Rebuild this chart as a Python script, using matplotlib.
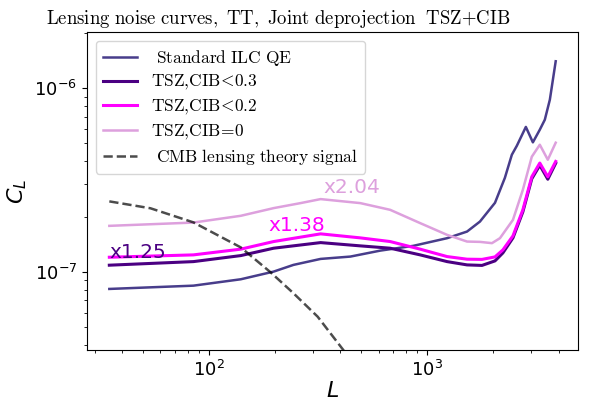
import matplotlib
matplotlib.use("Agg")
import matplotlib.pyplot as plt
from matplotlib.font_manager import FontProperties

# Values (C_L in units of 1e-7)
L_std = [35, 85, 140, 198, 244, 325, 445, 610, 863, 1234, 1523, 1745, 2045,
         2270, 2443, 2576, 2832, 3050, 3281, 3459, 3648, 3880]
cl_std = [0.808, 0.842, 0.912, 1.004, 1.092, 1.177, 1.212, 1.306, 1.386, 1.526,
          1.658, 1.879, 2.377, 3.25, 4.34, 4.86, 6.15, 5.07, 5.94, 6.73, 8.65, 14.0]

L_dep = [35, 85, 140, 198, 325, 494, 677, 929, 1234, 1523, 1783, 2045, 2223,
         2472, 2744, 3015, 3281, 3570, 3880]
cl_03 = [1.088, 1.138, 1.227, 1.346, 1.444, 1.386, 1.346, 1.238, 1.138, 1.092,
         1.085, 1.148, 1.269, 1.532, 2.123, 3.213, 3.805, 3.193, 3.902]
cl_02 = [1.202, 1.238, 1.330, 1.463, 1.611, 1.532, 1.463, 1.330, 1.212, 1.173,
         1.170, 1.207, 1.318, 1.571, 2.177, 3.294, 3.912, 3.294, 3.991]

L_zero = [35, 85, 140, 198, 263, 325, 494, 677, 929, 1234, 1523, 1745, 1981,
          2155, 2472, 2744, 3015, 3281, 3570, 3880]
cl_zero = [1.781, 1.856, 2.020, 2.224, 2.368, 2.490, 2.368, 2.177, 1.843, 1.591,
           1.463, 1.457, 1.434, 1.526, 1.920, 2.798, 4.233, 4.921, 4.077, 5.047]

L_th = [35, 54, 85, 140, 192, 244, 315, 413, 600, 1000]
cl_th = [2.42, 2.22, 1.86, 1.36, 0.994, 0.766, 0.571, 0.376, 0.19, 0.07]

labels = [r"$\mathrm{\ Standard\ ILC\ QE}$",
          r"$\mathrm{TSZ{,}CIB}\!<\!\mathrm{0.3}$",
          r"$\mathrm{TSZ{,}CIB}\!<\!\mathrm{0.2}$",
          r"$\mathrm{TSZ{,}CIB}\!=\!\mathrm{0}$",
          r"$\mathrm{\ CMB\ lensing\ theory\ signal}$"]
ratios = ["x1.25", "x1.38", "x2.04"]

scale = 1e-7

fig, ax = plt.subplots(figsize=(6.14, 4.03), dpi=100)
fig.subplots_adjust(left=0.1417, right=0.9414, bottom=0.1315, top=0.9206)

ax.plot(L_std, [c * scale for c in cl_std], color="darkslateblue", lw=1.8, label=labels[0])
ax.plot(L_dep, [c * scale for c in cl_03], color="indigo", lw=2.2, label=labels[1])
ax.plot(L_dep, [c * scale for c in cl_02], color="magenta", lw=2.2, label=labels[2])
ax.plot(L_zero, [c * scale for c in cl_zero], color="plum", lw=1.8, label=labels[3])
ax.plot(L_th, [c * scale for c in cl_th], "k--", alpha=0.7, lw=1.8, label=labels[4])

ax.text(35, 1.19e-7, ratios[0], color="indigo", fontsize=14.5)
ax.text(188, 1.67e-7, ratios[1], color="magenta", fontsize=14.5)
ax.text(335, 2.70e-7, ratios[2], color="plum", fontsize=14.5)

ax.set_xscale("log")
ax.set_yscale("log")
ax.set_ylim(3.76e-8, 2.02e-6)
ax.set_xlabel(r"$L$", fontsize=16, labelpad=1)
ax.set_ylabel(r"$C_L$", fontsize=16)
ax.tick_params(labelsize=13)
ax.set_title(r"$\mathrm{Lensing\ noise\ curves,\ TT,\ Joint\ deprojection\ \ TSZ{+}CIB}$",
             fontsize=13.5, math_fontfamily="cm", x=0.389)
ax.legend(loc="upper left", labelspacing=0.3,
          prop=FontProperties(size=12.5, math_fontfamily="cm"))

plt.savefig("out.png")
